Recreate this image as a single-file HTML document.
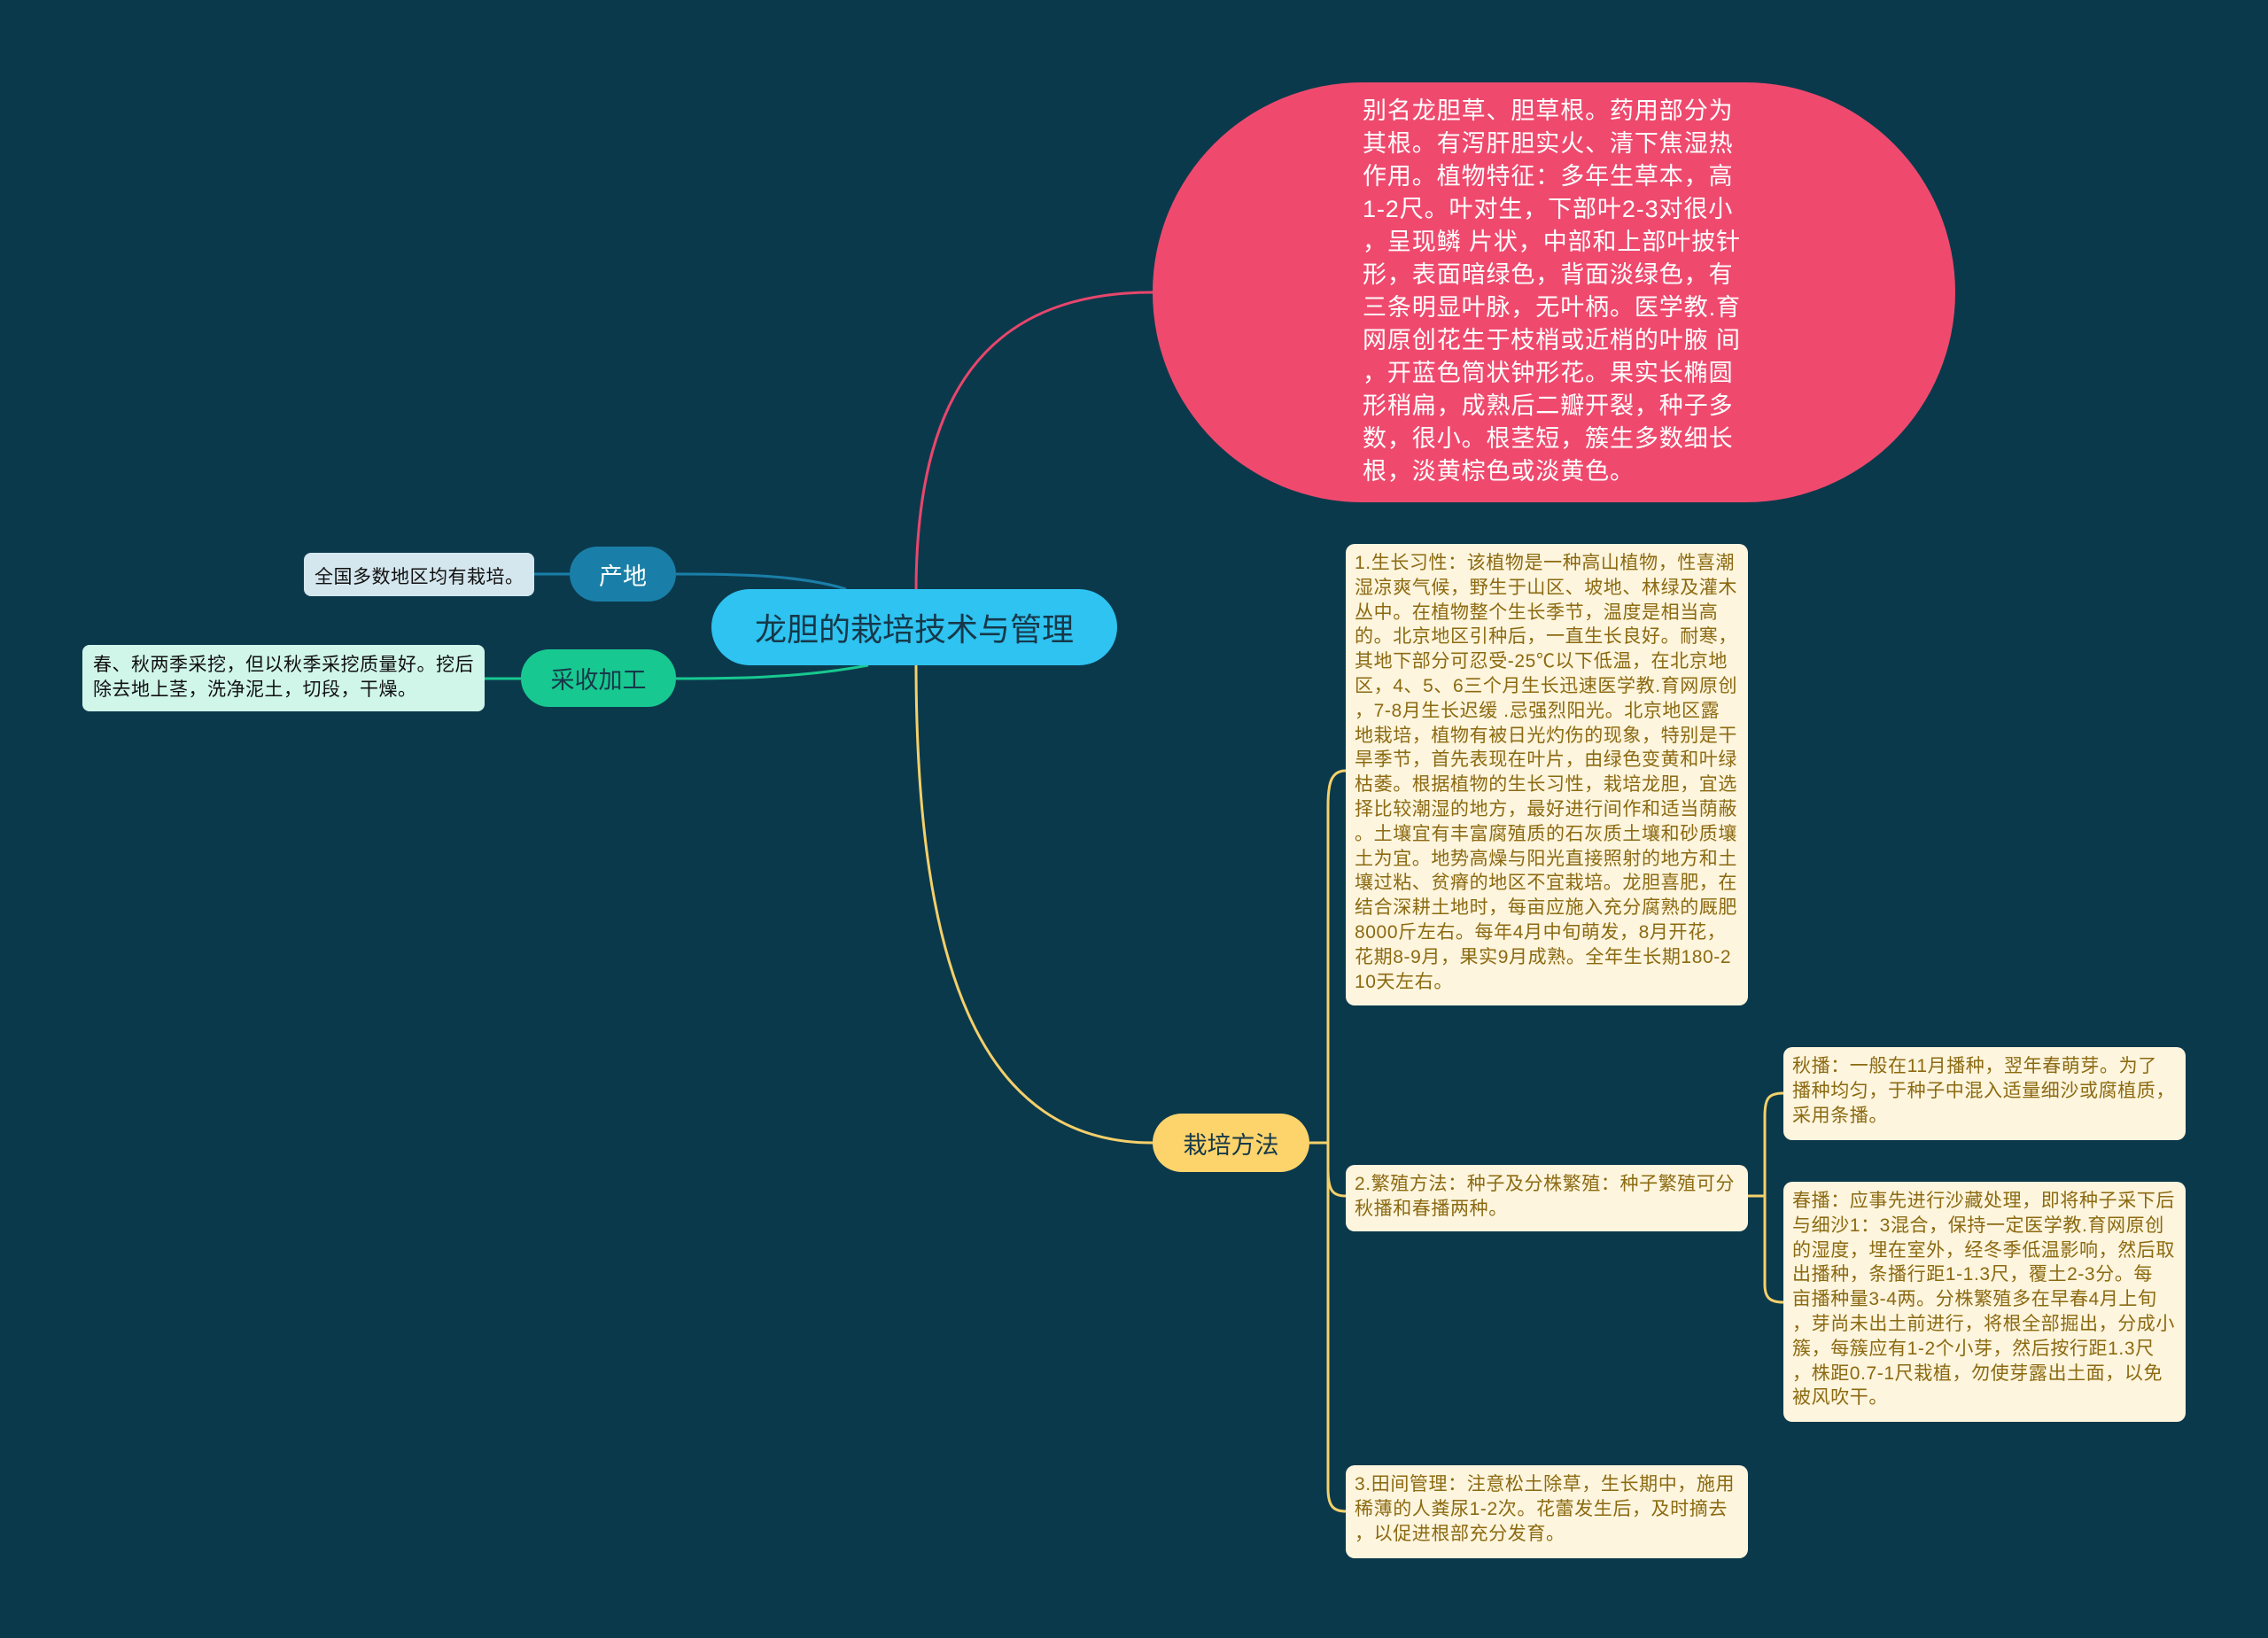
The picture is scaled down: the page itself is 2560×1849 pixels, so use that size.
<!DOCTYPE html>
<html><head><meta charset="utf-8"><style>
body{margin:0;width:2560px;height:1849px;background:#0b394c;position:relative;overflow:hidden;font-family:"Liberation Sans","Noto Sans CJK SC",sans-serif}
.a{position:absolute;box-sizing:border-box}
.box{background:#fdf5dd;border-radius:10px;color:#8c6a12;font-size:21px;line-height:27.8px;padding:8px 0 0 10px;white-space:nowrap;letter-spacing:0.6px}
.pill{border-radius:40px;display:flex;align-items:center;justify-content:center}
</style></head><body>
<svg class="a" style="left:0;top:0" width="2560" height="1849">
<g fill="none" stroke-width="3">
<path d="M1034,668 C1034,450 1110,330 1301,330" stroke="#e8466c"/>
<path d="M1034,748 C1034,1100 1110,1290 1301,1290" stroke="#f4d06a"/>
<path d="M955,665 C900,648 820,648 763,648" stroke="#1a7fa8"/>
<path d="M603,648 L643,648" stroke="#1a7fa8"/>
<path d="M980,751 C900,766 820,766 763,766" stroke="#17c990"/>
<path d="M547,766 L588,766" stroke="#17c990"/>
<g stroke="#f4d06a">
<path d="M1478,1290 L1499,1290"/>
<path d="M1519,870 C1502,870 1499,885 1499,910 L1499,1680 C1499,1700 1505,1706 1519,1706"/>
<path d="M1499,1320 C1499,1345 1505,1350 1519,1350"/>
<path d="M1973,1350 L1992,1350"/>
<path d="M2013,1234 C1996,1234 1992,1240 1992,1260 L1992,1450 C1992,1465 1998,1470 2013,1470"/>
</g></g></svg>

<div class="a" style="left:1301px;top:93px;width:906px;height:474px;background:#ef4a6e;border-radius:237px"></div>
<div class="a" style="left:1538px;top:107px;color:#fff;font-size:27px;line-height:37px;white-space:nowrap;letter-spacing:0.9px">别名龙胆草、胆草根。药用部分为<br>其根。有泻肝胆实火、清下焦湿热<br>作用。植物特征：多年生草本，高<br>1-2尺。叶对生，下部叶2-3对很小<br>，呈现鳞 片状，中部和上部叶披针<br>形，表面暗绿色，背面淡绿色，有<br>三条明显叶脉，无叶柄。医学教.育<br>网原创花生于枝梢或近梢的叶腋 间<br>，开蓝色筒状钟形花。果实长椭圆<br>形稍扁，成熟后二瓣开裂，种子多<br>数，很小。根茎短，簇生多数细长<br>根，淡黄棕色或淡黄色。</div>

<div class="a pill" style="left:803px;top:665px;width:458px;height:86px;background:#2ec3f0;color:#16384a;font-size:36px;border-radius:43px">龙胆的栽培技术与管理</div>
<div class="a pill" style="left:643px;top:617px;width:120px;height:62px;background:#1a7fa8;color:#fff;font-size:27px;border-radius:31px">产地</div>
<div class="a" style="left:343px;top:624px;width:260px;height:49px;background:#d4e6ee;border-radius:8px;font-size:21px;color:#111;padding:11px 0 0 12px;white-space:nowrap;letter-spacing:0.5px">全国多数地区均有栽培。</div>
<div class="a pill" style="left:588px;top:733px;width:175px;height:65px;background:#17c990;color:#16384a;font-size:27px;border-radius:32px">采收加工</div>
<div class="a" style="left:93px;top:728px;width:454px;height:75px;background:#d0f6ea;border-radius:8px;font-size:21px;line-height:28px;color:#111;padding:9px 0 0 12px;white-space:nowrap;letter-spacing:0.5px">春、秋两季采挖，但以秋季采挖质量好。挖后<br>除去地上茎，洗净泥土，切段，干燥。</div>
<div class="a pill" style="left:1301px;top:1257px;width:177px;height:66px;background:#fdd46b;color:#16384a;font-size:27px;border-radius:33px">栽培方法</div>

<div class="a box" style="left:1519px;top:614px;width:454px;height:521px">1.生长习性：该植物是一种高山植物，性喜潮<br>湿凉爽气候，野生于山区、坡地、林绿及灌木<br> 丛中。在植物整个生长季节，温度是相当高<br>的。北京地区引种后，一直生长良好。耐寒，<br>其地下部分可忍受-25℃以下低温，在北京地<br>区，4、5、6三个月生长迅速医学教.育网原创<br>，7-8月生长迟缓 .忌强烈阳光。北京地区露<br>地栽培，植物有被日光灼伤的现象，特别是干<br>旱季节，首先表现在叶片，由绿色变黄和叶绿<br>枯萎。根据植物的生长习性，栽培龙胆，宜选<br>择比较潮湿的地方，最好进行间作和适当荫蔽<br>。土壤宜有丰富腐殖质的石灰质土壤和砂质壤<br>土为宜。地势高燥与阳光直接照射的地方和土<br>壤过粘、贫瘠的地区不宜栽培。龙胆喜肥，在<br>结合深耕土地时，每亩应施入充分腐熟的厩肥<br>8000斤左右。每年4月中旬萌发，8月开花，<br>花期8-9月，果实9月成熟。全年生长期180-2<br>10天左右。</div>
<div class="a box" style="left:1519px;top:1315px;width:454px;height:75px">2.繁殖方法：种子及分株繁殖：种子繁殖可分<br>秋播和春播两种。</div>
<div class="a box" style="left:1519px;top:1654px;width:454px;height:105px">3.田间管理：注意松土除草，生长期中，施用<br>稀薄的人粪尿1-2次。花蕾发生后，及时摘去<br>，以促进根部充分发育。</div>
<div class="a box" style="left:2013px;top:1182px;width:454px;height:105px">秋播：一般在11月播种，翌年春萌芽。为了<br>播种均匀，于种子中混入适量细沙或腐植质，<br>采用条播。</div>
<div class="a box" style="left:2013px;top:1334px;width:454px;height:271px">春播：应事先进行沙藏处理，即将种子采下后<br>与细沙1：3混合，保持一定医学教.育网原创<br>的湿度，埋在室外，经冬季低温影响，然后取<br>出播种，条播行距1-1.3尺，覆土2-3分。每<br>亩播种量3-4两。分株繁殖多在早春4月上旬<br>，芽尚未出土前进行，将根全部掘出，分成小<br>簇，每簇应有1-2个小芽，然后按行距1.3尺<br>，株距0.7-1尺栽植，勿使芽露出土面，以免<br>被风吹干。</div>
</body></html>
